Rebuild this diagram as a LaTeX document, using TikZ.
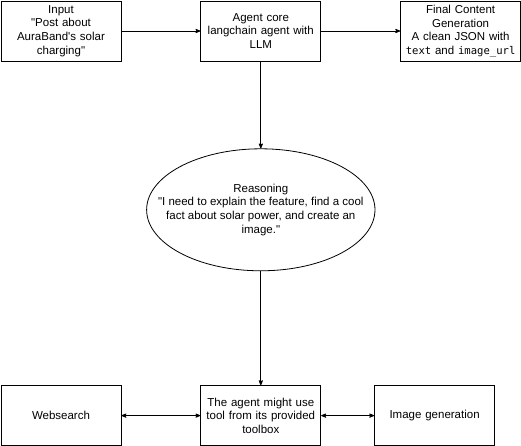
\documentclass[tikz,border=0pt]{standalone}
\usepackage{fontspec}
\setmainfont{Liberation Sans}[Ligatures=TeXOff]
\setmonofont{DejaVu Sans Mono}[Scale=0.92]
\usetikzlibrary{positioning}
\usetikzlibrary{arrows}
\usetikzlibrary{shapes.geometric}
\tikzset{
	>=stealth',
	punkt/.style={
		rectangle,
		draw=black, line width=0.8pt,
		text width=112pt,
		minimum width=120pt,
		minimum height=60pt,
		inner sep=2pt,
		align=center},
	denk/.style={
		ellipse,
		draw=black, line width=0.8pt,
		minimum width=228pt,
		minimum height=122pt,
		inner xsep=-22pt,
		inner ysep=0pt,
		align=center},
	line/.style={draw, line width=0.8pt, ->},
	zwei/.style={draw, line width=0.8pt, <->},
}

\begin{document}
\begin{tikzpicture}
			[x=1pt,y=-1pt,
			font=\fontsize{11.5}{13.6}\selectfont]
			\useasboundingbox (0,0) rectangle (521,446);
			\node[punkt] (input) at (61,31) {Input\\"Post about\\AuraBand's solar\\charging"};
			\node[punkt, right=79pt of input] (agent) {Agent core\\langchain agent with\\LLM};
			\node[punkt, right=79pt of agent] (final) {Final Content\\Generation\\A clean JSON with\\\texttt{text} and \texttt{image\_url}};
			\node[denk, below=87pt of agent] (reason) {Reasoning\\"I need to explain the feature, find a cool\\fact about solar power, and create an\\image."};
			\node[punkt, below=114pt of reason] (tool) {The agent might use\\tool from its provided\\toolbox};
			\node[punkt, left=79pt of tool] (web) {Websearch};
			\node[punkt, right=53pt of tool] (bild) {Image generation};
			\path[line] (input) -- (agent);
			\path[line] (agent) -- (final);
			\path[line] (agent) -- (reason);
			\path[line] (reason) -- (tool);
			\path[zwei] (web) -- (tool);
			\path[zwei] (tool) -- (bild);
\end{tikzpicture}
\end{document}
